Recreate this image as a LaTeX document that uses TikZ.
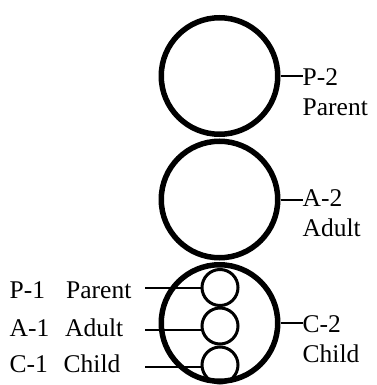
\documentclass[tikz,border=0pt]{standalone}
\usepackage{fontspec}
\setmainfont{Liberation Serif}
\begin{document}
\begin{tikzpicture}[x=1pt,y=-1pt,
  big/.style={circle,draw,line width=5.5pt,minimum size=116.5pt,inner sep=0pt},
  small/.style={circle,draw,line width=3pt,minimum size=36pt,inner sep=0pt},
  lbl/.style={anchor=base west,inner sep=0pt,font=\fontsize{25.5}{29.5}\selectfont},
  tick/.style={line width=2pt}]
\useasboundingbox (0,0) rectangle (376,385);
% big circles
\node[big] (p2) at (219.5,76) {};
\node[big] (a2) at (219.5,199.5) {};
\node[big] (c2) at (219.5,323) {};
% small circles
\node[small] (p1c) at (220,287.5) {};
\node[small] (a1c) at (220,326) {};
\node[small] (c1c) at (220,365) {};
% right labels
\node[lbl] (p2lab) at (302.5,85.7) {P-2};
\node[lbl] (p2lab2) at (302.5,115) {Parent};
\node[lbl] (a2lab) at (302.5,206.7) {A-2};
\node[lbl] (a2lab2) at (302.5,236.7) {Adult};
\node[lbl] (c2lab) at (302.5,332.3) {C-2};
\node[lbl] (c2lab2) at (302.5,362) {Child};
\draw[tick] (p2.east) -- (p2lab.west |- p2.east);
\draw[tick] (a2.east) -- (a2lab.west |- a2.east);
\draw[tick] (c2.east) -- (c2lab.west |- c2.east);
% left labels
\node[lbl] (p1lab) at (9.5,298.3) {P-1};
\node[lbl] (p1lab2) at (66,298.3) {Parent};
\node[lbl] (a1lab) at (9.5,336) {A-1};
\node[lbl] (a1lab2) at (65,336) {Adult};
\node[lbl] (c1lab) at (9.5,372.7) {C-1};
\node[lbl] (c1lab2) at (63.5,372.7) {Child};
\coordinate (p1end) at (145,287.7);
\coordinate (a1end) at (145,330);
\coordinate (c1end) at (145,366.5);
\draw[tick] (p1end) -- (p1c.west |- p1end);
\draw[tick] (a1end) -- (a1c.west |- a1end);
\draw[tick] (c1end) -- (c1c.west |- c1end);
\end{tikzpicture}
\end{document}
